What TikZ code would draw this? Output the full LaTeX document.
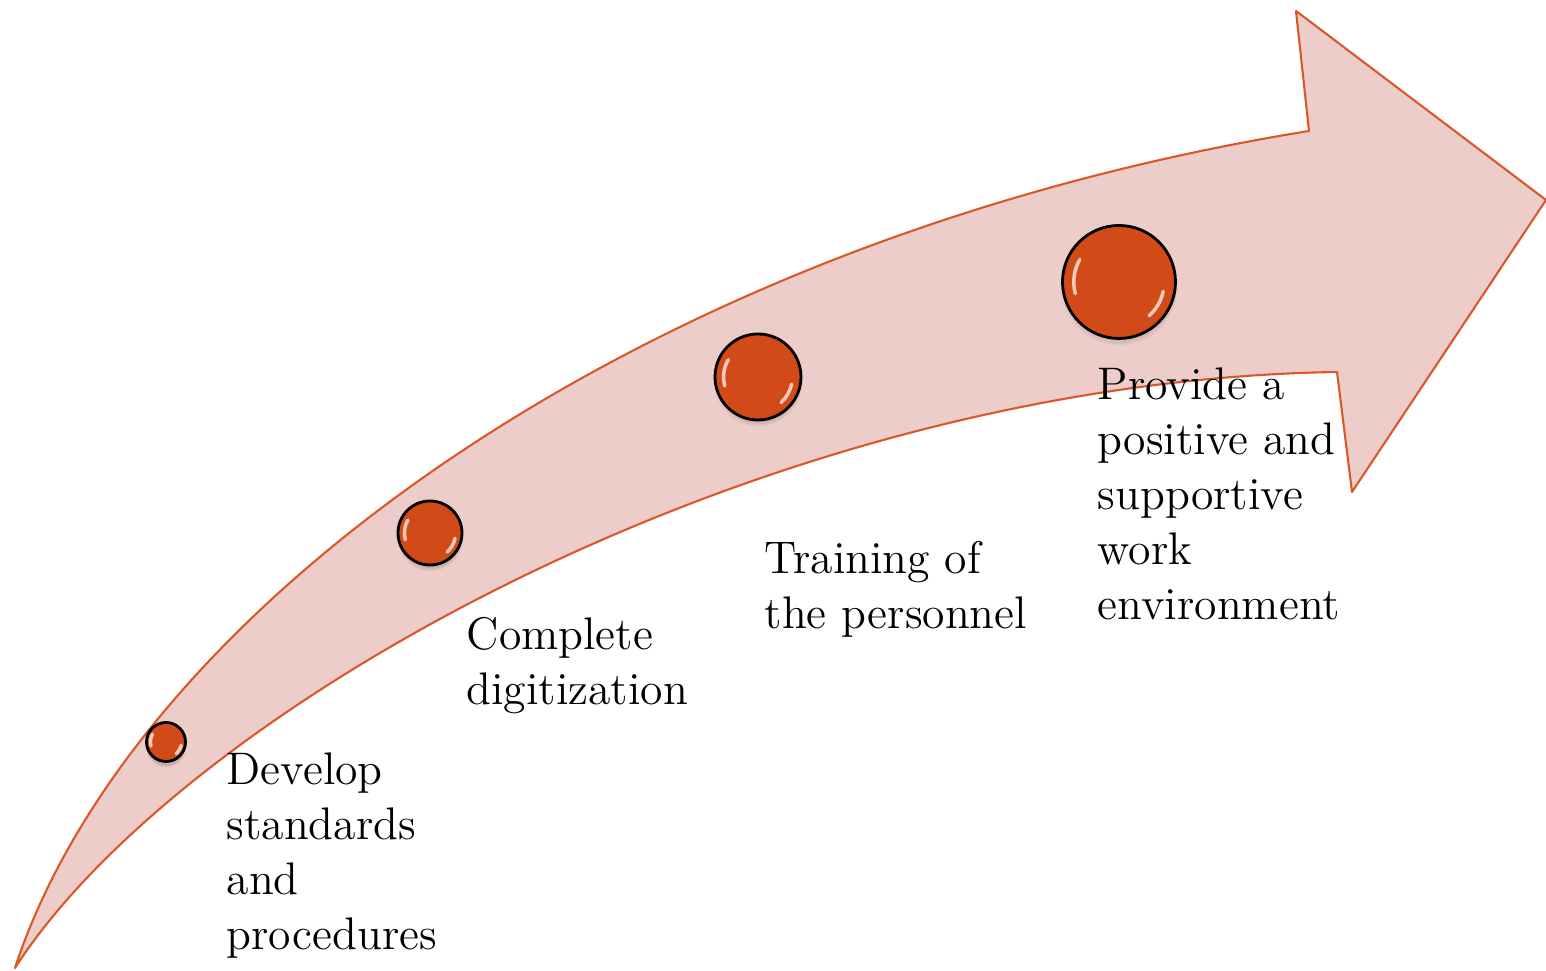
\documentclass[tikz,border=0pt]{standalone}
\usepackage{tikz}
\usetikzlibrary{shadows}

\definecolor{arrowfill}{HTML}{EDCDCA}
\definecolor{arrowline}{HTML}{D9582A}
\definecolor{ballred}{HTML}{D24A17}
\definecolor{ballrim}{HTML}{E5744A}

\pgfdeclareradialshading{ballshade}{\pgfpoint{0bp}{0bp}}{color(0bp)=(ballred); color(38bp)=(ballred); color(50bp)=(ballrim); color(70bp)=(ballrim)}

\begin{document}
\begin{tikzpicture}[
		arrowbody/.style={fill=arrowfill, draw=arrowline, line width=0.6pt, line join=round},
		ball/.style={circle, inner sep=0pt, draw=black, line width=0.8pt, shading=ballshade,
			circular drop shadow={shadow xshift=0pt, shadow yshift=-0.05cm, shadow scale=1.04, opacity=0.4}},
		gloss/.style={white, line width=1pt, line cap=round, opacity=0.7},
		lbl/.style={anchor=north west, inner sep=0pt, align=left, font=\fontsize{13}{15.65}\selectfont},
	]
				\useasboundingbox (0,0) rectangle (15.46,9.71);
				
				% curved arrow
				\draw[arrowbody] (0.15,0.03) .. controls (1.3,3.55) and (6.3,7.3) .. (13.09,8.40)
					-- (12.96,9.60) -- (15.46,7.71) -- (13.52,4.79) -- (13.37,5.99)
					.. controls (7.6,5.9) and (1.8,2.6) .. (0.15,0.03) -- cycle;
				
				% balls
				\node[ball, minimum size=0.39cm] (b1) at (1.66, 2.29) {};
				\node[ball, minimum size=0.64cm] (b2) at (4.30, 4.38) {};
				\node[ball, minimum size=0.86cm] (b3) at (7.58, 5.94) {};
				\node[ball, minimum size=1.13cm] (b4) at (11.19, 6.89) {};
				
				% highlights
				\foreach \b/\r in {b1/0.195, b2/0.32, b3/0.43, b4/0.565} {
					\draw[gloss] (\b.center) ++(150:{0.8*\r}) arc[start angle=150, end angle=195, radius={0.8*\r}];
					\draw[gloss] (\b.center) ++(-12:{0.8*\r}) arc[start angle=-12, end angle=-48, radius={0.8*\r}];
				}
				
				% labels
				\node[lbl] (develop) at (2.26, 2.19) {Develop\\standards\\and\\procedures};
				\node[lbl] (digit) at (4.66, 3.54) {Complete\\digitization};
				\node[lbl] (train) at (7.64, 4.30) {Training of\\the personnel};
				\node[lbl] (provide) at (10.97, 6.04) {Provide a\\positive and\\supportive\\work\\environment};
			\end{tikzpicture}
\end{document}
